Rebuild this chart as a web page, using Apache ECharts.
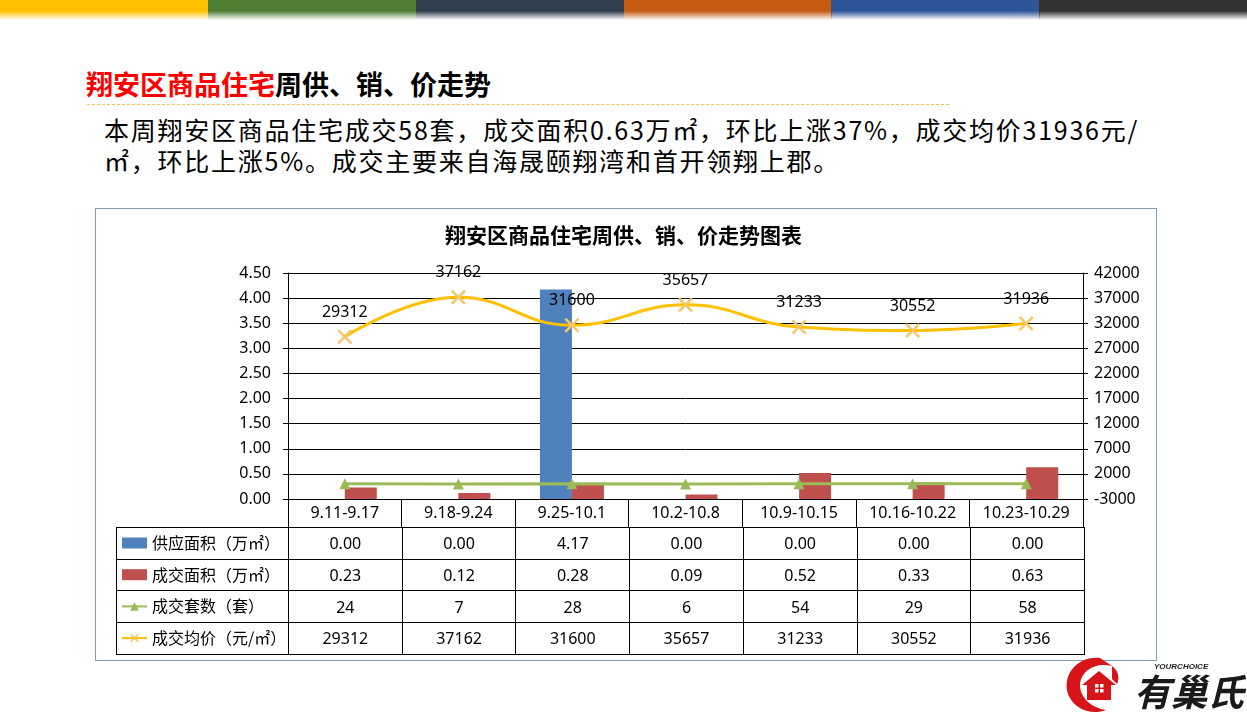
<!DOCTYPE html>
<html>
<head>
<meta charset="utf-8">
<script src="https://cdn.jsdelivr.net/npm/echarts@6/dist/echarts.min.js"></script>
<style>
  html, body { margin:0; padding:0; }
  body { width:1247px; height:718px; position:relative; overflow:hidden; background:#fff;
         font-family:"Noto Sans","Noto Sans CJK SC",sans-serif; }
  .bar { position:absolute; top:0; height:20px; }
  #title { position:absolute; left:86px; top:66px; font-family:"Noto Sans CJK SC",sans-serif;
           font-weight:bold; font-size:27px; line-height:36px; color:#000; white-space:nowrap; }
  #title .red { color:#FF0000; }
  #dash { position:absolute; left:87px; top:104px; width:862px; height:0; border-top:1px dashed #F2C14E; }
  #para { position:absolute; left:104px; top:114px; font-family:"Noto Sans CJK SC",sans-serif;
          font-size:25px; letter-spacing:1.75px; line-height:31px; color:#000; white-space:nowrap; }
  #box { position:absolute; left:95px; top:208px; width:1060px; height:451px; border:1px solid #7F9DB9; background:#fff; }
  #chart { position:absolute; left:0; top:0; width:1247px; height:718px; }
  #tbl { position:absolute; left:116px; top:527px; width:968px; table-layout:fixed; border-collapse:collapse; z-index:5;
         font-family:"Noto Sans","Noto Sans CJK SC",sans-serif; font-size:16px; color:#000; }
  #tbl td { border:1px solid #000; padding:0; text-align:center; height:30.7px; overflow:hidden; }
  #logo { position:absolute; left:1060px; top:652px; width:187px; height:66px; }
</style>
</head>
<body>
<div id="bars"></div>
<div id="title"><span class="red">翔安区商品住宅</span>周供、销、价走势</div>
<div id="dash"></div>
<div id="para">本周翔安区商品住宅成交58套，成交面积0.63万㎡，环比上涨37%，成交均价31936元/<br>㎡，环比上涨5%。成交主要来自海晟颐翔湾和首开领翔上郡。</div>
<div id="box"></div>
<div id="chart"></div>
<table id="tbl"><colgroup id="cols"></colgroup><tbody id="tbody"></tbody></table>
<svg id="logo" viewBox="0 0 187 66">
  <path d="M40,6 C16,4 2,24 8,42 C13,56 30,64 46,58 C32,56 20,46 20,33 C21,18 36,10 52,14 Z" fill="#D7141A"/>
  <path d="M52,14 C58,18 60,26 57,32 L52,27 Z" fill="#D7141A"/>
  <path d="M22,33 L39,19 L56,33 L51,33 L51,48 L27,48 L27,33 Z" fill="#D7141A"/>
  <rect x="35" y="32" width="3.5" height="3.5" fill="#fff"/><rect x="40" y="32" width="3.5" height="3.5" fill="#fff"/>
  <rect x="35" y="37" width="3.5" height="3.5" fill="#fff"/><rect x="40" y="37" width="3.5" height="3.5" fill="#fff"/>
  <text x="94" y="17" font-family="Liberation Sans" font-style="italic" font-weight="bold" font-size="8" fill="#222">YOURCHOICE</text>
  <text x="74" y="54" font-family="Noto Sans CJK SC" font-weight="bold" font-style="italic" font-size="37" fill="#1a1a1a" textLength="110" lengthAdjust="spacingAndGlyphs">有巢氏</text>
</svg>
<script>
// ---- data ----
const categories = ['9.11-9.17','9.18-9.24','9.25-10.1','10.2-10.8','10.9-10.15','10.16-10.22','10.23-10.29'];
const supplyArea = [0.00, 0.00, 4.17, 0.00, 0.00, 0.00, 0.00];
const salesArea  = [0.23, 0.12, 0.28, 0.09, 0.52, 0.33, 0.63];
const salesUnits = [24, 7, 28, 6, 54, 29, 58];
const avgPrice   = [29312, 37162, 31600, 35657, 31233, 30552, 31936];
const seriesNames = ['供应面积（万㎡）','成交面积（万㎡）','成交套数（套）','成交均价（元/㎡）'];
const chartTitle = '翔安区商品住宅周供、销、价走势图表';
const topBarColors = ['#FFC000','#4F7F35','#323F4F','#C55A11','#2E5597','#333333'];

// ---- top colour strip ----
const barsEl = document.getElementById('bars');
const bw = 1247 / topBarColors.length;
topBarColors.forEach((c, i) => {
  const d = document.createElement('div');
  d.className = 'bar';
  d.style.left = (i * bw) + 'px';
  d.style.width = (bw + 0.5) + 'px';
  d.style.background = `linear-gradient(to bottom, ${c} 0px, ${c} 11px, rgba(255,255,255,0) 20px)`;
  barsEl.appendChild(d);
});

// ---- data table ----
const cols = document.getElementById('cols');
const c0 = document.createElement('col'); c0.style.width = '172px'; cols.appendChild(c0);
categories.forEach(() => { const c = document.createElement('col'); c.style.width = (796 / categories.length) + 'px'; cols.appendChild(c); });
const rows = [
  supplyArea.map(v => v.toFixed(2)),
  salesArea.map(v => v.toFixed(2)),
  salesUnits.map(v => String(v)),
  avgPrice.map(v => String(v))
];
const tb = document.getElementById('tbody');
rows.forEach((r) => {
  const tr = document.createElement('tr');
  const td0 = document.createElement('td'); tr.appendChild(td0);
  r.forEach(v => { const td = document.createElement('td'); td.textContent = v; tr.appendChild(td); });
  tb.appendChild(tr);
});

// ---- chart ----
const font = '"Noto Sans","Noto Sans CJK SC",sans-serif';
const chart = echarts.init(document.getElementById('chart'), null, {renderer:'canvas'});
const xMark = 'path://M0,1.2L1.2,0L5,3.8L8.8,0L10,1.2L6.2,5L10,8.8L8.8,10L5,6.2L1.2,10L0,8.8L3.8,5Z';
chart.setOption({
  animation: false,
  backgroundColor: 'transparent',
  title: {
    text: chartTitle, left: 'center', top: 220,
    textStyle: { fontFamily: '"Noto Sans CJK SC",sans-serif', fontWeight: 'bold', fontSize: 21, color: '#000' }
  },
  legend: {
    orient: 'vertical', left: 121, top: 535, padding: 0,
    itemWidth: 25, itemHeight: 11, itemGap: 15.7,
    textStyle: { fontFamily: '"Noto Sans CJK SC",sans-serif', fontSize: 16, lineHeight: 16, color: '#000' },
    data: [
      { name: seriesNames[0], icon: 'rect' },
      { name: seriesNames[1], icon: 'rect' },
      { name: seriesNames[2] },
      { name: seriesNames[3] }
    ]
  },
  grid: { left: 288, right: 164, top: 273, bottom: 219, containLabel: false },
  xAxis: {
    type: 'category', data: categories, boundaryGap: true,
    axisLine: { lineStyle: { color: '#000', width: 1 } },
    axisTick: { show: true, length: 28, interval: 0, lineStyle: { color: '#000' } },
    axisLabel: { interval: 0, margin: 6, fontFamily: font, fontSize: 16, color: '#000' }
  },
  yAxis: [
    {
      type: 'value', min: 0, max: 4.5, interval: 0.5,
      axisLine: { show: true, lineStyle: { color: '#000' } },
      axisTick: { show: true, length: 5, lineStyle: { color: '#000' } },
      axisLabel: { margin: 17, fontFamily: font, fontSize: 16, color: '#000', formatter: v => v.toFixed(2) },
      splitLine: { show: true, lineStyle: { color: '#000', width: 1 } }
    },
    {
      type: 'value', min: -3000, max: 42000, interval: 5000, position: 'right',
      axisLine: { show: true, lineStyle: { color: '#000' } },
      axisTick: { show: true, length: 5, lineStyle: { color: '#000' } },
      axisLabel: { margin: 11, fontFamily: font, fontSize: 16, color: '#000', formatter: v => String(v) },
      splitLine: { show: false }
    }
  ],
  series: [
    { name: seriesNames[0], type: 'bar', yAxisIndex: 0, data: supplyArea, barWidth: 32, barGap: '0%',
      itemStyle: { color: '#4F81BD' } },
    { name: seriesNames[1], type: 'bar', yAxisIndex: 0, data: salesArea, barWidth: 32, barGap: '0%',
      itemStyle: { color: '#C0504D' } },
    { name: seriesNames[2], type: 'line', yAxisIndex: 1, data: salesUnits,
      symbol: 'triangle', symbolSize: 11,
      lineStyle: { color: '#9BBB59', width: 3 }, itemStyle: { color: '#9BBB59' } },
    { name: seriesNames[3], type: 'line', yAxisIndex: 1, data: avgPrice, smooth: 0.45,
      symbol: xMark, symbolSize: 15,
      lineStyle: { color: '#FFC000', width: 3 }, itemStyle: { color: '#F7C66A' },
      label: { show: true, position: 'top', distance: 9, fontFamily: font, fontSize: 16, color: '#000' },
      z: 5 }
  ]
});
</script>
</body>
</html>
